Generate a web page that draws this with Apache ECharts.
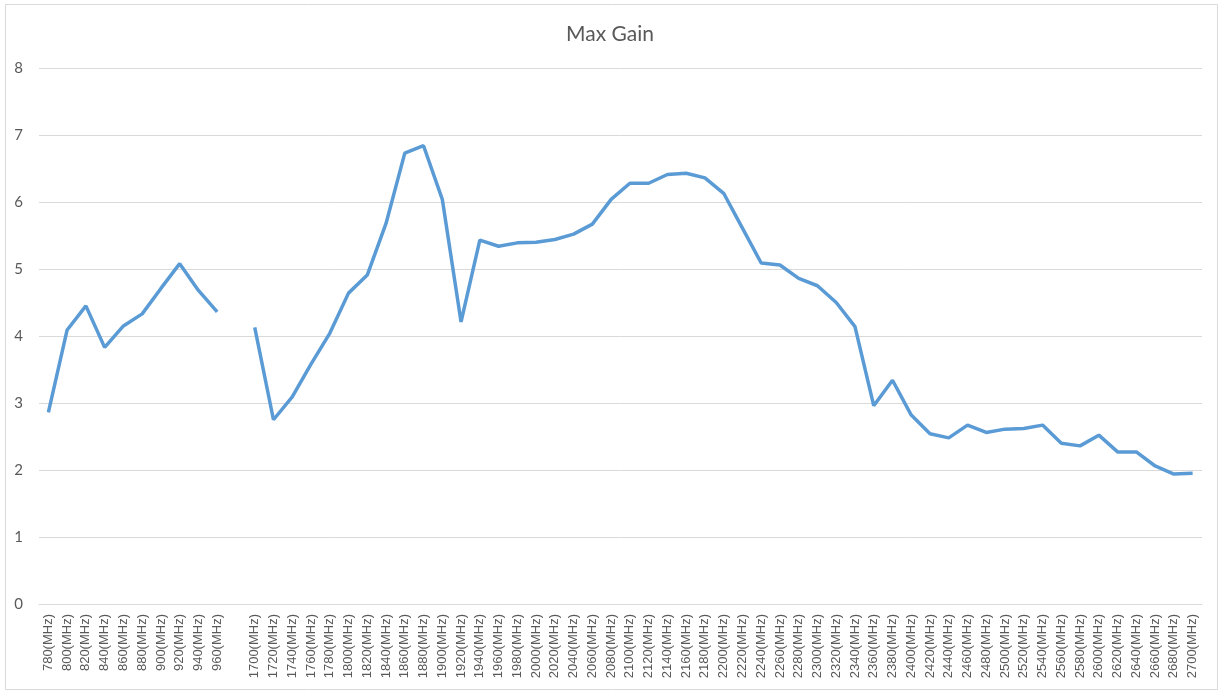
<!DOCTYPE html>
<html>
<head>
<meta charset="utf-8">
<script src="https://cdn.jsdelivr.net/npm/echarts@6/dist/echarts.min.js"></script>
<style>
html,body{margin:0;padding:0;background:#fff;}
#chart{width:1220px;height:693px;}
</style>
</head>
<body>
<div id="chart"></div>
<script>
const categories = [
  '780(MHz)','800(MHz)','820(MHz)','840(MHz)','860(MHz)','880(MHz)','900(MHz)','920(MHz)','940(MHz)','960(MHz)',
  '',
  '1700(MHz)','1720(MHz)','1740(MHz)','1760(MHz)','1780(MHz)','1800(MHz)','1820(MHz)','1840(MHz)','1860(MHz)','1880(MHz)',
  '1900(MHz)','1920(MHz)','1940(MHz)','1960(MHz)','1980(MHz)','2000(MHz)','2020(MHz)','2040(MHz)','2060(MHz)','2080(MHz)',
  '2100(MHz)','2120(MHz)','2140(MHz)','2160(MHz)','2180(MHz)','2200(MHz)','2220(MHz)','2240(MHz)','2260(MHz)','2280(MHz)',
  '2300(MHz)','2320(MHz)','2340(MHz)','2360(MHz)','2380(MHz)','2400(MHz)','2420(MHz)','2440(MHz)','2460(MHz)','2480(MHz)',
  '2500(MHz)','2520(MHz)','2540(MHz)','2560(MHz)','2580(MHz)','2600(MHz)','2620(MHz)','2640(MHz)','2660(MHz)','2680(MHz)',
  '2700(MHz)'
];
const maxGain = [
  2.86, 4.09, 4.45, 3.83, 4.15, 4.33, 4.71, 5.08, 4.68, 4.36,
  null,
  4.13, 2.75, 3.09, 3.58, 4.04, 4.64, 4.91, 5.68, 6.73, 6.84,
  6.04, 4.21, 5.43, 5.34, 5.39, 5.40, 5.44, 5.52, 5.67, 6.04,
  6.28, 6.28, 6.41, 6.43, 6.36, 6.13, 5.61, 5.09, 5.06, 4.86,
  4.75, 4.50, 4.14, 2.96, 3.34, 2.82, 2.54, 2.48, 2.67, 2.56,
  2.61, 2.62, 2.67, 2.40, 2.36, 2.52, 2.27, 2.27, 2.06, 1.94,
  1.95
];
const chart = echarts.init(document.getElementById('chart'));
chart.setOption({
  backgroundColor: '#ffffff',
  animation: false,
  title: {
    text: 'Max Gain',
    left: 'center',
    top: 19,
    textStyle: { fontFamily: 'Lato', fontSize: 21, fontWeight: 'normal', color: '#595959' }
  },
  graphic: [{
    type: 'rect',
    shape: { x: 5.5, y: 4.5, width: 1212, height: 685 },
    style: { fill: 'none', stroke: '#d9d9d9', lineWidth: 1 },
    silent: true
  }],
  grid: { left: 39, right: 18, top: 68, bottom: 89, containLabel: false },
  xAxis: {
    type: 'category',
    data: categories,
    boundaryGap: true,
    axisLine: { lineStyle: { color: '#d9d9d9' } },
    axisTick: { show: false },
    axisLabel: {
      interval: 0,
      rotate: 90,
      margin: 10,
      color: '#595959',
      fontFamily: 'Liberation Sans',
      fontSize: 13
    }
  },
  yAxis: {
    type: 'value',
    min: 0,
    max: 8,
    interval: 1,
    axisLine: { show: false },
    axisTick: { show: false },
    axisLabel: { color: '#595959', fontFamily: 'Lato', fontSize: 15, margin: 16 },
    splitLine: { lineStyle: { color: '#d9d9d9', width: 1 } }
  },
  series: [{
    name: 'Max Gain',
    type: 'line',
    data: maxGain,
    showSymbol: false,
    connectNulls: false,
    lineStyle: { color: '#5b9bd5', width: 3.5 },
    itemStyle: { color: '#5b9bd5' }
  }]
});
</script>
</body>
</html>
